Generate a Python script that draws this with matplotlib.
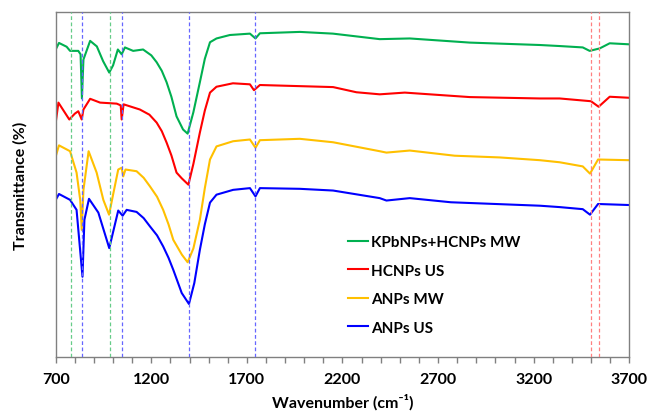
import matplotlib.pyplot as plt
from matplotlib.ticker import MultipleLocator

plt.rcParams['font.family'] = ['Lato', 'DejaVu Sans']

# FTIR spectra (wavenumber in cm-1, transmittance in arbitrary %)
wn_green = [700, 717, 757, 775, 818, 830, 837, 845, 880, 915, 948, 980, 1000, 1025, 1045, 1062, 1105,
            1157, 1200, 1228, 1255, 1280, 1305, 1332, 1366, 1390, 1420, 1454, 1480, 1507, 1541, 1611,
            1716, 1745, 1768, 1977, 2150, 2395, 2552, 2866, 3233, 3336, 3457, 3493, 3545, 3598, 3700]
t_green = [89.2, 91.1, 90.0, 88.8, 88.8, 87.8, 75.0, 86.3, 91.7, 90.1, 85.8, 82.5, 84.6, 89.2, 87.8, 89.8, 88.8,
           89.2, 87.5, 85.5, 83.0, 79.7, 75.5, 69.8, 66.0, 64.8, 71.0, 79.7, 86.5, 91.3, 92.4, 93.4,
           93.8, 92.4, 93.9, 94.3, 93.8, 92.2, 92.4, 91.2, 90.5, 90.2, 89.8, 88.8, 89.5, 91.0, 90.7]

wn_red = [700, 714, 771, 800, 818, 836, 845, 880, 932, 1019, 1040, 1045, 1055, 1140, 1190, 1228, 1255,
          1280, 1305, 1332, 1360, 1394, 1420, 1454, 1480, 1507, 1541, 1627, 1716, 1737, 1768, 1959,
          2151, 2273, 2395, 2526, 2866, 3233, 3336, 3500, 3540, 3598, 3700]
t_red = [68.0, 73.8, 68.9, 70.6, 71.3, 68.9, 71.8, 74.9, 73.8, 73.5, 73.0, 68.9, 73.3, 71.8, 70.3, 68.0, 65.5,
         62.2, 58.5, 53.5, 51.8, 50.0, 56.0, 65.1, 71.5, 76.7, 78.4, 79.4, 79.1, 77.4, 78.9, 78.6,
         78.3, 76.8, 76.2, 76.7, 75.4, 75.0, 75.0, 74.2, 72.6, 75.5, 75.2]

wn_yellow = [700, 717, 775, 809, 828, 836, 845, 872, 914, 949, 979, 1000, 1027, 1045, 1053, 1065, 1123,
             1160, 1193, 1230, 1262, 1290, 1315, 1360, 1390, 1420, 1454, 1480, 1507, 1541, 1628, 1716,
             1745, 1768, 1977, 2151, 2395, 2430, 2552, 2787, 3023, 3233, 3336, 3457, 3495, 3537, 3700]
t_yellow = [58.2, 61.4, 59.7, 53.5, 45.6, 36.9, 48.5, 59.7, 53.5, 45.6, 41.3, 47.1, 54.4, 54.9, 52.4, 54.4, 53.9,
            52.0, 49.5, 46.5, 42.7, 38.5, 34.0, 29.7, 27.5, 31.5, 39.8, 49.0, 57.3, 61.1, 62.6, 63.1,
            60.7, 62.9, 63.3, 62.3, 59.7, 59.3, 59.9, 58.4, 57.9, 57.1, 56.5, 55.3, 53.2, 57.3, 57.1]

wn_blue = [700, 717, 775, 809, 840, 850, 874, 923, 980, 1027, 1050, 1071, 1123, 1160, 1193, 1230, 1262,
           1290, 1315, 1340, 1359, 1397, 1425, 1454, 1480, 1507, 1541, 1628, 1716, 1745, 1768, 1977,
           2151, 2395, 2430, 2552, 2767, 3233, 3336, 3457, 3495, 3537, 3700]
t_blue = [45.6, 47.3, 45.6, 42.7, 23.3, 39.8, 45.9, 41.9, 31.6, 42.5, 41.0, 42.7, 42.1, 40.3, 37.9, 35.3, 32.1,
          28.8, 25.3, 21.5, 18.6, 15.4, 21.5, 31.1, 38.5, 44.8, 47.1, 48.5, 49.0, 46.6, 49.0, 48.8,
          48.3, 46.1, 45.4, 46.1, 44.9, 43.9, 43.5, 42.9, 41.3, 44.4, 44.1]

labels = ['KPbNPs+HCNPs MW', 'HCNPs US', 'ANPs MW', 'ANPs US']
colors = ['#00b050', '#ff0000', '#ffc000', '#0000ff']
xticks = [700, 1200, 1700, 2200, 2700, 3200, 3700]

# marker lines for the bands
green_marks = [780, 985]
blue_marks = [840, 1048, 1395, 1745]
red_marks = [3498, 3542]

fig = plt.figure(figsize=(6.48, 4.14), dpi=100)
ax = fig.add_axes([0.086, 0.135, 0.885, 0.833])

for x in green_marks:
    ax.axvline(x, color='#66cc88', lw=0.9, ls=(0, (3, 2)), zorder=3)
for x in blue_marks:
    ax.axvline(x, color='#6666ff', lw=0.9, ls=(0, (3, 2)), zorder=3)
for x in red_marks:
    ax.axvline(x, color='#ff8080', lw=0.9, ls=(0, (3, 2)), zorder=3)

series = [(wn_green, t_green), (wn_red, t_red), (wn_yellow, t_yellow), (wn_blue, t_blue)]
for (x, y), lab, c in zip(series, labels, colors):
    ax.plot(x, y, color=c, lw=1.5, label=lab, zorder=2)

ax.set_xlim(700, 3700)
ax.set_ylim(0, 100)
ax.set_xticks(xticks)
ax.xaxis.set_minor_locator(MultipleLocator(100))
ax.set_yticks([])
ax.tick_params(axis='x', which='both', direction='out', length=4, width=1, color='#808080')
ax.tick_params(axis='x', which='major', labelsize=11.5, pad=7)
for lbl in ax.get_xticklabels():
    lbl.set_fontweight('bold')
for s in ax.spines.values():
    s.set_color('#808080')
    s.set_linewidth(1)

ax.set_xlabel('Wavenumber (cm⁻¹)', fontsize=11.5, fontweight='bold', labelpad=5)
ax.set_ylabel('Transmittance (%)', fontsize=11.5, fontweight='bold', labelpad=20)

fig.legend(loc='upper left', bbox_to_anchor=(348 / 648, 1 - 236 / 414), frameon=False,
           prop={'weight': 'bold', 'size': 11}, handlelength=1.3, handletextpad=0.2,
           labelspacing=0.95, borderpad=0, borderaxespad=0)

plt.savefig('out.png', dpi=100)
